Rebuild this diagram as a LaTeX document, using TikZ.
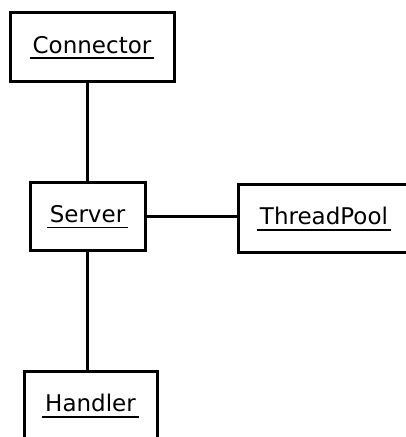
\documentclass[tikz,border=0pt]{standalone}
\usepackage{fontspec}
\setmainfont{DejaVu Sans}
\usetikzlibrary{positioning}
\newcommand{\objname}[1]{\setbox0\hbox{#1}\rlap{\kern-3pt\rule[-5.8pt]{\dimexpr\wd0+6pt\relax}{1.6pt}}\box0}
\begin{document}
\begin{tikzpicture}[x=1pt,y=1pt,thick,
	obj/.style = {draw, fill=white, line width=3pt, outer sep=0pt, inner sep=0pt,
		minimum height=68pt, font=\fontsize{23}{28}\selectfont}]
	\path[use as bounding box, clip] (0,0) rectangle (406,437);
	
	\node[obj, minimum width=115pt] (server) at (87.5,220) {\objname{Server}};
	\node[obj, minimum width=164pt, minimum height=69pt] [above=101pt of server, xshift=4.5pt] (connector) {\objname{Connector}};
	\node[obj, minimum width=172pt] [right=93pt of server, yshift=-2pt] (threadpool) {\objname{ThreadPool}};
	\node[obj, minimum width=133pt] [below=121pt of server, xshift=3pt] (handler) {\objname{Handler}};
	
	\path[draw, line width=3pt]
	(server.north) -- (server.north |- connector.south)
	(server.south) -- (server.south |- handler.north)
	(server.east) -- (server.east -| threadpool.west);
\end{tikzpicture}
\end{document}
